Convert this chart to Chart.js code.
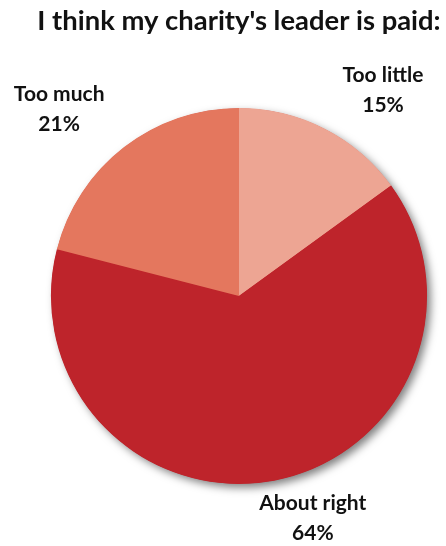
<!DOCTYPE html>
<html>
<head>
<meta charset="utf-8">
<script src="https://cdn.jsdelivr.net/npm/chart.js@4"></script>
<style>
  html, body { margin: 0; padding: 0; background: #fff; }
  #wrap { width: 446px; height: 546px; }
</style>
</head>
<body>
<div id="wrap"><canvas id="pieChart"></canvas></div>
<script>
const labels = ['Too little', 'About right', 'Too much'];
const values = [15, 64, 21];
const colors = ['#EDA593', '#BE242B', '#E4775E'];
// nudges for the outside labels, relative to the slice mid-angle point
const labelNudge = [[33, 12], [28, -18], [-30, 6]];

const fontFamily = 'Lato, "Open Sans", sans-serif';

const pieShadow = {
  id: 'pieShadow',
  beforeDatasetsDraw(chart) {
    const arc = chart.getDatasetMeta(0).data[0];
    if (!arc) return;
    const ctx = chart.ctx;
    ctx.save();
    ctx.shadowColor = 'rgba(0,0,0,0.5)';
    ctx.shadowBlur = 8;
    ctx.shadowOffsetX = 4;
    ctx.shadowOffsetY = 4;
    ctx.fillStyle = '#BE242B';
    ctx.beginPath();
    ctx.arc(arc.x, arc.y, arc.outerRadius - 0.5, 0, Math.PI * 2);
    ctx.fill();
    ctx.restore();
  }
};

const outsideLabels = {
  id: 'outsideLabels',
  afterDatasetsDraw(chart) {
    const ctx = chart.ctx;
    const meta = chart.getDatasetMeta(0);
    ctx.save();
    ctx.fillStyle = '#111';
    ctx.font = 'bold 21px ' + fontFamily;
    ctx.textAlign = 'center';
    ctx.textBaseline = 'middle';
    meta.data.forEach((arc, i) => {
      const mid = (arc.startAngle + arc.endAngle) / 2;
      const r = arc.outerRadius * 1.3;
      const x = arc.x + Math.cos(mid) * r + labelNudge[i][0];
      const y = arc.y + Math.sin(mid) * r + labelNudge[i][1];
      ctx.fillText(labels[i], x, y - 15);
      ctx.fillText(values[i] + '%', x, y + 15);
    });
    ctx.restore();
  }
};

const ctx = document.getElementById('pieChart').getContext('2d');
const pieChart = new Chart(ctx, {
  type: 'pie',
  data: {
    labels: labels,
    datasets: [{
      data: values,
      backgroundColor: colors,
      borderWidth: 0
    }]
  },
  options: {
    responsive: true,
    maintainAspectRatio: false,
    animation: false,
    layout: {
      padding: { left: 32, right: 0, top: 0, bottom: 62 }
    },
    plugins: {
      legend: { display: false },
      tooltip: { enabled: false },
      title: {
        display: true,
        text: "I think my charity's leader is paid:",
        color: '#111',
        font: { family: fontFamily, size: 27.4, weight: 'bold', lineHeight: 1.2 },
        padding: { top: 5, bottom: 70 }
      }
    }
  },
  plugins: [pieShadow, outsideLabels]
});
</script>
</body>
</html>
